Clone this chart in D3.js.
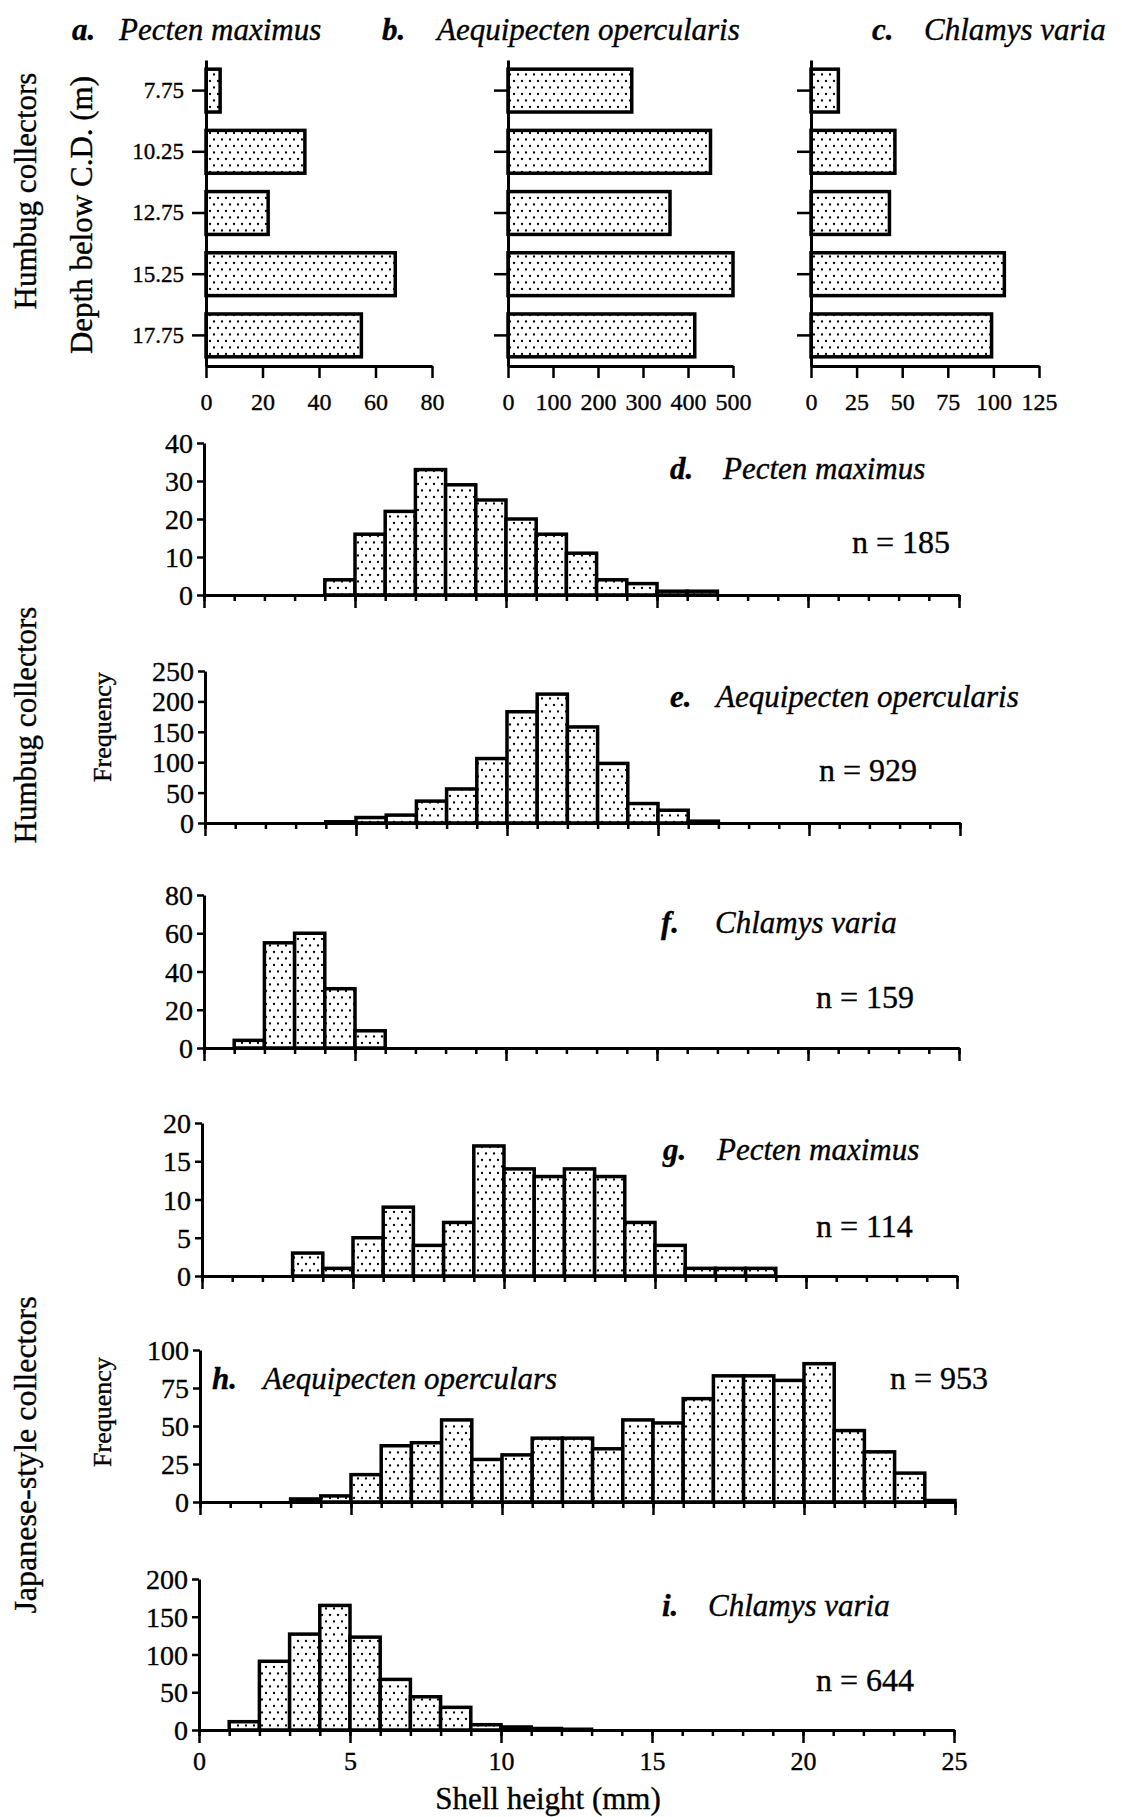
<!DOCTYPE html>
<html>
<head>
<meta charset="utf-8">
<script src="https://cdn.jsdelivr.net/npm/d3@7"></script>
<style>
  html, body { margin: 0; padding: 0; background: #fff; }
  svg { display: block; }
  text { font-family: "Liberation Serif", "Times New Roman", serif; fill: #000; stroke: #000; stroke-width: 0.35px; }
</style>
</head>
<body>
<div id="chart"></div>
<script>
// ---- data: settlement on Humbug collectors by depth ----
const depthLabels = ["7.75", "10.25", "12.75", "15.25", "17.75"];
const humbugPecten = [5, 35, 22, 67, 55];
const humbugAequipecten = [275, 450, 360, 500, 415];
const humbugChlamys = [15, 46, 43, 106, 99];

// ---- data: shell-height frequencies, 1 mm classes from 0 to 25 mm ----
const shellHeightBins = d3.range(0, 25);
const humbugPectenFreq = [0, 0, 0, 0, 4, 16, 22, 33, 29, 25, 20, 16, 11, 4, 3, 1, 1, 0, 0, 0, 0, 0, 0, 0, 0];
const humbugAequipectenFreq = [0, 0, 0, 0, 2, 9, 13, 36, 56, 106, 183, 212, 158, 98, 32, 21, 3, 0, 0, 0, 0, 0, 0, 0, 0];
const humbugChlamysFreq = [0, 4, 55, 60, 31, 9, 0, 0, 0, 0, 0, 0, 0, 0, 0, 0, 0, 0, 0, 0, 0, 0, 0, 0, 0];
const japanesePectenFreq = [0, 0, 0, 3, 1, 5, 9, 4, 7, 17, 14, 13, 14, 13, 7, 4, 1, 1, 1, 0, 0, 0, 0, 0, 0];
const japaneseAequipectenFreq = [0, 0, 0, 2, 4, 18, 37, 39, 54, 28, 31, 42, 42, 35, 54, 52, 68, 83, 83, 80, 91, 47, 33, 19, 1];
const japaneseChlamysFreq = [0, 11, 91, 127, 165, 123, 67, 44, 30, 7, 4, 2, 1, 0, 0, 0, 0, 0, 0, 0, 0, 0, 0, 0, 0];

// tick values
const pectenTicks = [0, 20, 40, 60, 80];
const aequipectenTicks = [0, 100, 200, 300, 400, 500];
const chlamysTicks = [0, 25, 50, 75, 100, 125];
const shellTicks = [0, 5, 10, 15, 20, 25];

const W = 1122, H = 1817;
const svg = d3.select("#chart").append("svg")
  .attr("width", W).attr("height", H).attr("viewBox", `0 0 ${W} ${H}`);

// stippled fill used by every bar: staggered rows of small dots
const defs = svg.append("defs");
const pat = defs.append("pattern").attr("id", "stipple")
  .attr("patternUnits", "userSpaceOnUse").attr("width", 8).attr("height", 13);
pat.append("rect").attr("width", 8).attr("height", 13).attr("fill", "#fff");
pat.append("circle").attr("cx", 2).attr("cy", 3).attr("r", 1.15).attr("fill", "#000");
pat.append("circle").attr("cx", 6).attr("cy", 9.5).attr("r", 1.15).attr("fill", "#000");

function styleAxis(g, fontSize) {
  g.selectAll(".domain").attr("stroke", "#000").attr("stroke-width", 3);
  g.selectAll(".tick line").attr("stroke", "#000").attr("stroke-width", 2.5);
  g.selectAll(".tick text").style("font-size", fontSize + "px").attr("fill", "#000");
}

function title(x1, x2, y, letter, name) {
  svg.append("text").attr("x", x1).attr("y", y)
    .style("font-size", "31px").style("font-style", "italic").style("font-weight", "bold")
    .text(letter);
  svg.append("text").attr("x", x2).attr("y", y)
    .style("font-size", "31px").style("font-style", "italic")
    .text(name);
}

// ---- top row: horizontal bars by depth ----
const band = d3.scaleBand().domain(depthLabels).range([60, 366]).paddingInner(0.3).paddingOuter(0.15);

const topPanels = [
  { values: humbugPecten, x0: 206, x1: 432, max: 80, ticks: pectenTicks, labels: true },
  { values: humbugAequipecten, x0: 508, x1: 733, max: 500, ticks: aequipectenTicks, labels: false },
  { values: humbugChlamys, x0: 811, x1: 1039, max: 125, ticks: chlamysTicks, labels: false }
];

topPanels.forEach(p => {
  const x = d3.scaleLinear().domain([0, p.max]).range([p.x0, p.x1]);
  const g = svg.append("g");
  g.selectAll("rect").data(p.values).join("rect")
    .attr("x", x(0))
    .attr("y", (d, i) => band(depthLabels[i]))
    .attr("width", d => x(d) - x(0))
    .attr("height", band.bandwidth())
    .attr("fill", "url(#stipple)")
    .attr("stroke", "#000").attr("stroke-width", 3.5);

  const ya = g.append("g").attr("transform", `translate(${x(0)},0)`)
    .call(d3.axisLeft(band).tickSize(14).tickSizeOuter(0).tickPadding(8)
      .tickFormat(p.labels ? (d => d) : () => ""));
  styleAxis(ya, 23);

  const xa = g.append("g").attr("transform", `translate(0,366)`)
    .call(d3.axisBottom(x).tickValues(p.ticks).tickSize(12).tickSizeOuter(0).tickPadding(15));
  styleAxis(xa, 24);
});

title(72, 119, 40, "a.", "Pecten maximus");
title(382, 437, 40, "b.", "Aequipecten opercularis");
title(872, 924, 40, "c.", "Chlamys varia");

function vLabel(x, y, txt, size) {
  svg.append("text").attr("transform", `translate(${x},${y}) rotate(-90)`)
    .attr("text-anchor", "middle").attr("dy", "0.35em")
    .style("font-size", size + "px").text(txt);
}
vLabel(25, 191, "Humbug collectors", 31);
vLabel(81, 215, "Depth below C.D. (m)", 31);

// ---- histograms of shell height ----
const histPanels = [
  { freq: humbugPectenFreq, x0: 204, top: 443, zero: 595, max: 40, yTicks: [0, 10, 20, 30, 40],
    letter: "d.", name: "Pecten maximus", lx: 670, nx: 723, ly: 479, n: "n = 185", ncx: 852, ny: 553 },
  { freq: humbugAequipectenFreq, x0: 205, top: 671, zero: 823, max: 250, yTicks: [0, 50, 100, 150, 200, 250],
    letter: "e.", name: "Aequipecten opercularis", lx: 670, nx: 716, ly: 707, n: "n = 929", ncx: 819, ny: 781 },
  { freq: humbugChlamysFreq, x0: 204, top: 895, zero: 1048, max: 80, yTicks: [0, 20, 40, 60, 80],
    letter: "f.", name: "Chlamys varia", lx: 661, nx: 715, ly: 933, n: "n = 159", ncx: 816, ny: 1008 },
  { freq: japanesePectenFreq, x0: 202, top: 1123, zero: 1276, max: 20, yTicks: [0, 5, 10, 15, 20],
    letter: "g.", name: "Pecten maximus", lx: 663, nx: 717, ly: 1160, n: "n = 114", ncx: 816, ny: 1237 },
  { freq: japaneseAequipectenFreq, x0: 200, top: 1350, zero: 1502, max: 100, yTicks: [0, 25, 50, 75, 100],
    letter: "h.", name: "Aequipecten operculars", lx: 212, nx: 263, ly: 1389, n: "n = 953", ncx: 890, ny: 1389 },
  { freq: japaneseChlamysFreq, x0: 199, top: 1579, zero: 1730, max: 200, yTicks: [0, 50, 100, 150, 200],
    letter: "i.", name: "Chlamys varia", lx: 662, nx: 708, ly: 1616, n: "n = 644", ncx: 816, ny: 1691, xLabels: true }
];

histPanels.forEach(p => {
  const x = d3.scaleLinear().domain([0, 25]).range([p.x0, p.x0 + 755]);
  const y = d3.scaleLinear().domain([0, p.max]).range([p.zero, p.top]);
  const g = svg.append("g");

  g.selectAll("rect").data(shellHeightBins.filter(i => p.freq[i] > 0)).join("rect")
    .attr("x", i => x(i))
    .attr("y", i => y(p.freq[i]))
    .attr("width", i => x(i + 1) - x(i))
    .attr("height", i => y(0) - y(p.freq[i]))
    .attr("fill", "url(#stipple)")
    .attr("stroke", "#000").attr("stroke-width", 3.5);

  // minor ticks every millimetre
  const minor = g.append("g").attr("transform", `translate(0,${p.zero})`)
    .call(d3.axisBottom(x).tickValues(d3.range(0, 26)).tickSize(6).tickSizeOuter(0).tickFormat(() => ""));
  styleAxis(minor, 26);
  // major ticks every 5 mm
  const major = g.append("g").attr("transform", `translate(0,${p.zero})`)
    .call(d3.axisBottom(x).tickValues(shellTicks).tickSize(13).tickSizeOuter(0).tickPadding(9)
      .tickFormat(p.xLabels ? d3.format("d") : () => ""));
  styleAxis(major, 26);

  const ya = g.append("g").attr("transform", `translate(${x(0)},0)`)
    .call(d3.axisLeft(y).tickValues(p.yTicks).tickSize(7).tickSizeOuter(0).tickPadding(4));
  styleAxis(ya, 28);
  ya.selectAll(".tick text").attr("dy", "0.34em");

  title(p.lx, p.nx, p.ly, p.letter, p.name);
  g.append("text").attr("x", p.ncx).attr("y", p.ny).style("font-size", "32px").text(p.n);
});

vLabel(25, 725, "Humbug collectors", 31);
vLabel(102, 727, "Frequency", 26);
vLabel(25, 1455, "Japanese-style collectors", 32);
vLabel(102, 1412, "Frequency", 26);

svg.append("text").attr("x", 548).attr("y", 1809).attr("text-anchor", "middle")
  .style("font-size", "31px").text("Shell height (mm)");
</script>
</body>
</html>
